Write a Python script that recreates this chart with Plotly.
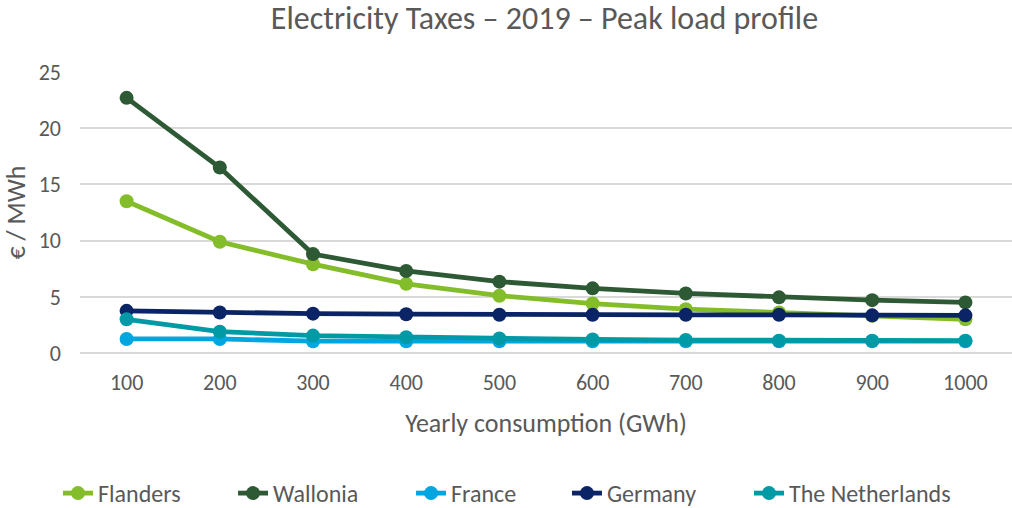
import plotly.graph_objects as go

consumption = ["100", "200", "300", "400", "500", "600", "700", "800", "900", "1000"]
flanders = [13.5, 9.9, 7.9, 6.15, 5.1, 4.4, 3.9, 3.6, 3.3, 3.0]
wallonia = [22.7, 16.5, 8.8, 7.3, 6.35, 5.75, 5.3, 4.95, 4.7, 4.5]
france = [1.25, 1.25, 1.05, 1.05, 1.05, 1.05, 1.05, 1.05, 1.05, 1.05]
germany = [3.75, 3.6, 3.5, 3.45, 3.4, 3.4, 3.4, 3.4, 3.35, 3.35]
netherlands = [3.0, 1.9, 1.55, 1.4, 1.3, 1.2, 1.15, 1.1, 1.1, 1.1]

series = [
    ("Flanders", flanders, "#84BD2A"),
    ("Wallonia", wallonia, "#2D5A35"),
    ("France", france, "#00A6E0"),
    ("Germany", germany, "#0A2466"),
    ("The Netherlands", netherlands, "#009AA6"),
]

# left edge of each legend entry, in paper fraction
legend_x = [-0.0236, 0.1642, 0.3552, 0.5225, 0.7178]

font_family = "Carlito, Lato, 'Liberation Sans Narrow', sans-serif"
grey = "#595959"

fig = go.Figure()
legend_layouts = {}
for i, (name, vals, col) in enumerate(series):
    lname = "legend" if i == 0 else f"legend{i + 1}"
    fig.add_trace(go.Scatter(
        x=consumption, y=vals, name=name, mode="lines+markers",
        line=dict(color=col, width=4.8),
        marker=dict(color=col, size=14),
        legend=lname,
    ))
    legend_layouts[lname] = dict(
        orientation="h", x=legend_x[i], xanchor="left", y=-0.5, yanchor="middle",
        font=dict(size=24, family=font_family, color=grey), bgcolor="rgba(0,0,0,0)",
    )

fig.update_layout(
    width=1012, height=508,
    margin=dict(l=80, r=0, t=72, b=155, autoexpand=False),
    paper_bgcolor="white", plot_bgcolor="white",
    font=dict(family=font_family, color=grey, size=22),
    title=dict(text="Electricity Taxes – 2019 – Peak load profile",
               x=0.538, xanchor="center", y=0.965, yanchor="middle",
               font=dict(size=32, color=grey)),
    xaxis=dict(type="category", range=[-0.5, 9.5],
               title=dict(text="Yearly consumption (GWh)", font=dict(size=26), standoff=18),
               showgrid=False, showline=False, ticks="", tickfont=dict(size=22),
               ticklabelstandoff=14),
    yaxis=dict(range=[0, 25], dtick=5, showgrid=True, gridcolor="#D9D9D9", gridwidth=1.5,
               zeroline=True, zerolinecolor="#D9D9D9", zerolinewidth=1.5,
               title=dict(text="€ / MWh", font=dict(size=26), standoff=10),
               tickfont=dict(size=22), ticklabelstandoff=18),
    showlegend=True,
    **legend_layouts,
)

fig.write_html("out.html", config={"displayModeBar": False},
               post_script="document.body.style.margin='0';")
